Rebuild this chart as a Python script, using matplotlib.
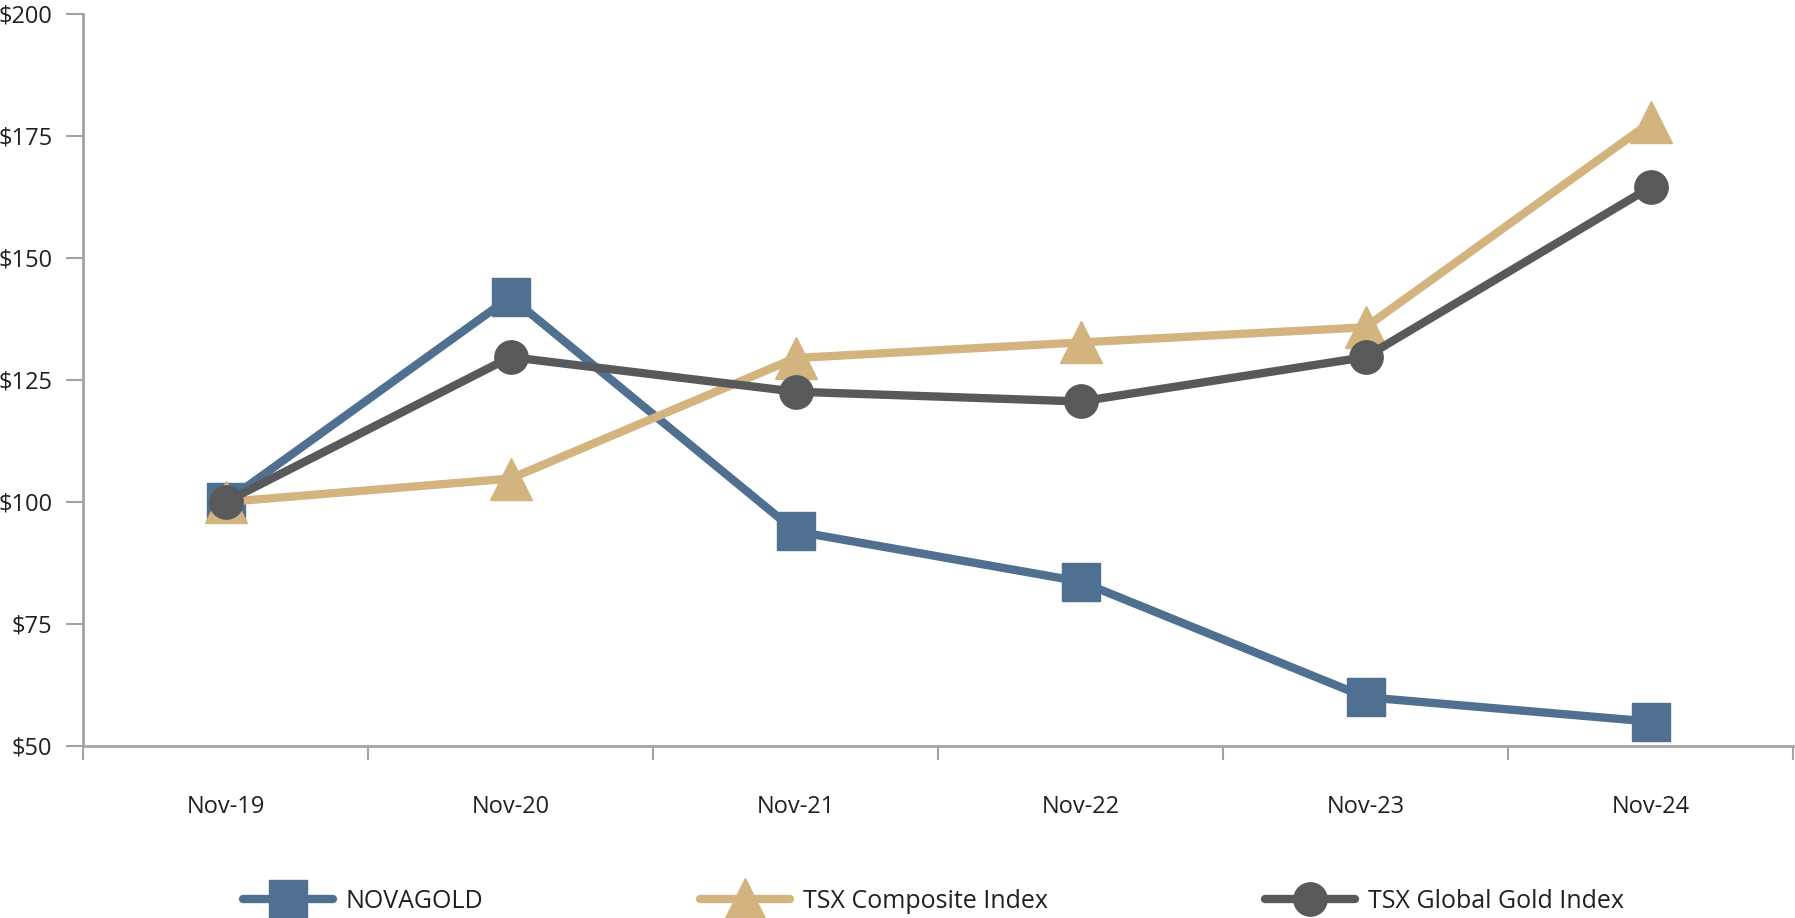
import matplotlib
matplotlib.use("Agg")
import matplotlib.pyplot as plt
import numpy as np

plt.rcParams['font.family'] = ['Open Sans', 'DejaVu Sans']

years = ["Nov-19", "Nov-20", "Nov-21", "Nov-22", "Nov-23", "Nov-24"]
novagold = [100, 142, 94, 83.7, 60, 55]
tsx_comp = [100, 104.8, 129.5, 132.7, 135.8, 177.8]
tsx_gold = [100, 129.7, 122.6, 120.6, 129.7, 164.5]
yticks = [50, 75, 100, 125, 150, 175, 200]

blue = '#4f7090'
tan = '#d3b47f'
grey = '#58595b'
axc = '#a3a3a3'

fig = plt.figure(figsize=(17.95, 9.18), dpi=100)
ax = fig.add_axes([83/1795, 1-746/918, (1793-83)/1795, (746-14)/918])
x = np.arange(len(years))

ax.plot(x, novagold, color=blue, lw=6, marker='s', ms=27, label='NOVAGOLD', zorder=3, solid_capstyle='round')
ax.plot(x, tsx_comp, color=tan, lw=6, marker='^', ms=30, label='TSX Composite Index', zorder=4, solid_capstyle='round')
ax.plot(x, tsx_gold, color=grey, lw=6, marker='o', ms=24, label='TSX Global Gold Index', zorder=5, solid_capstyle='round')

ax.set_xlim(-0.5, len(years)-0.5)
ax.set_ylim(50, 200)
ax.set_yticks(yticks)
ax.set_yticklabels(['$%d' % v for v in yticks])
ax.set_xticks(x)
ax.set_xticklabels(years)
ax.set_xticks(np.arange(len(years)+1)-0.5, minor=True)

for s in ['top', 'right']:
    ax.spines[s].set_visible(False)
for s in ['left', 'bottom']:
    ax.spines[s].set_color(axc)
    ax.spines[s].set_linewidth(2)
ax.spines['left'].set_bounds(50, 200)

ax.tick_params(axis='y', length=12, width=1.5, color=axc, pad=10, labelsize=17, labelcolor='#231f20')
ax.tick_params(axis='x', which='major', length=0, pad=35, labelsize=17, labelcolor='#231f20')
ax.tick_params(axis='x', which='minor', length=10, width=1.5, color=axc)
ax.patch.set_alpha(0)

leg = fig.legend(loc='center', bbox_to_anchor=(0.52, 1-901/918), ncol=3, frameon=False,
                 fontsize=18, handlelength=3.6, handletextpad=0.5, columnspacing=8.7,
                 labelcolor='#231f20')

fig.savefig('out.png', dpi=100)
